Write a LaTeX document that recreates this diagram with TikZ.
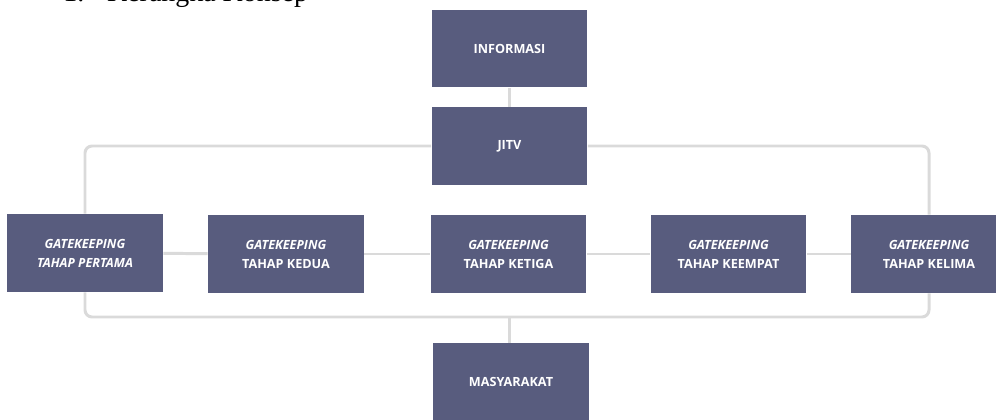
\documentclass[tikz,border=0pt]{standalone}
\usepackage{fontspec}
\setmainfont{Liberation Serif}
\setsansfont{Open Sans}
\usepackage{tikz}
\usetikzlibrary{positioning,calc}
\definecolor{BoxSlate}{HTML}{585C7E}
\definecolor{LinkGray}{HTML}{DADADA}
\tikzset{
  stage/.style={fill=BoxSlate,draw=none,minimum width=3.12cm,minimum height=1.56cm,
    inner sep=2pt,align=center,text=white,font=\sffamily\bfseries\fontsize{7.2}{10.8}\selectfont},
  link/.style={LinkGray,line width=1.7pt,rounded corners=4pt},
  judul/.style={inner sep=0pt,anchor=base west,font=\fontsize{15.9}{18}\selectfont}
}

\begin{document}
\begin{tikzpicture}[x=0.02cm,y=-0.02cm]
  \useasboundingbox (0,0) rectangle (996,419);
  \node[judul] (title) at (63,1.5) {1.\hspace{13pt}Kerangka Konsep};
  % alur utama
  \node[stage] (info) at (509.5,48.5) {INFORMASI};
  \node[stage] (jitv) at (509.5,146) {JITV};
  \node[stage] (gk1) at (85,253) {\textit{GATEKEEPING}\\\textit{TAHAP PERTAMA}};
  \node[stage] (gk2) at (286,254) {\textit{GATEKEEPING}\\TAHAP KEDUA};
  \node[stage] (gk3) at (508.5,254) {\textit{GATEKEEPING}\\TAHAP KETIGA};
  \node[stage] (gk4) at (728.5,254) {\textit{GATEKEEPING}\\TAHAP KEEMPAT};
  \node[stage] (gk5) at (929,254) {\textit{GATEKEEPING}\\TAHAP KELIMA};
  \node[stage] (masy) at (511,382) {MASYARAKAT};
  \coordinate (bus) at (509,317);
  % penghubung
  \draw[link] (info) -- (jitv);
  \draw[link] (jitv.west) -| (gk1.north);
  \draw[link] (jitv.east) -| (gk5.north);
  \draw[link] (gk1) -- (gk2);
  \draw[link] (gk2) -- (gk3);
  \draw[link] (gk3) -- (gk4);
  \draw[link] (gk4) -- (gk5);
  \draw[link] (gk1.south) |- (bus) -| (gk5.south);
  \draw[link] (bus) -- (bus |- masy.north);
\end{tikzpicture}
\end{document}
